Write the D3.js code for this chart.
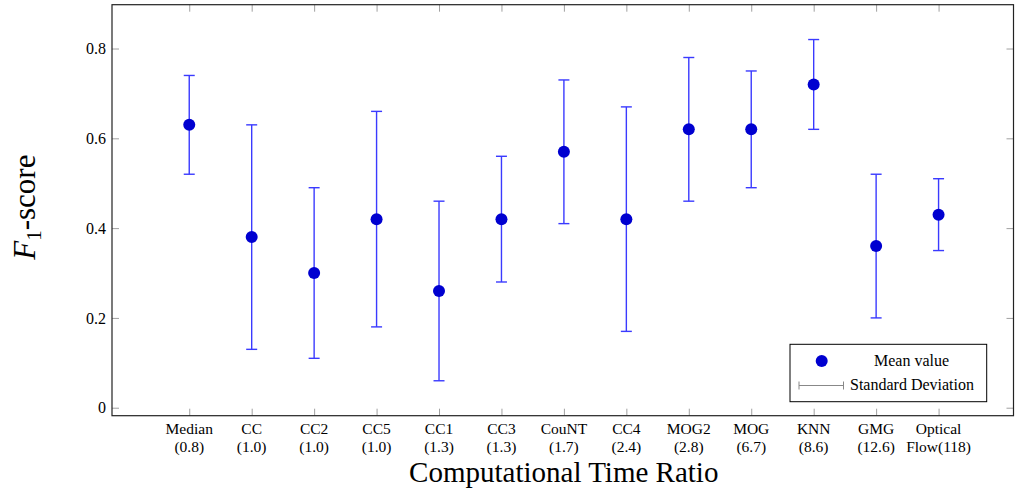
<!DOCTYPE html>
<html>
<head>
<meta charset="utf-8">
<script src="https://cdn.jsdelivr.net/npm/d3@7"></script>
<style>
  body { margin: 0; background: #fff; }
  svg { display: block; }
  text { font-family: "Liberation Serif", "DejaVu Serif", serif; fill: #000; }
</style>
</head>
<body>
<svg id="chart" width="1021" height="490"></svg>
<script>
const methods = ["Median", "CC", "CC2", "CC5", "CC1", "CC3", "CouNT", "CC4", "MOG2", "MOG", "KNN", "GMG", "Optical"];
const ratios = ["(0.8)", "(1.0)", "(1.0)", "(1.0)", "(1.3)", "(1.3)", "(1.7)", "(2.4)", "(2.8)", "(6.7)", "(8.6)", "(12.6)", "Flow(118)"];
const meanValues = [0.63, 0.38, 0.30, 0.42, 0.26, 0.42, 0.57, 0.42, 0.62, 0.62, 0.72, 0.36, 0.43];
const lowerValues = [0.52, 0.13, 0.11, 0.18, 0.06, 0.28, 0.41, 0.17, 0.46, 0.49, 0.62, 0.20, 0.35];
const upperValues = [0.74, 0.63, 0.49, 0.66, 0.46, 0.56, 0.73, 0.67, 0.78, 0.75, 0.82, 0.52, 0.51];
const yTicks = [0, 0.2, 0.4, 0.6, 0.8];

const svg = d3.select("#chart");
const L = 112, R = 1013.5, T = 4.7, B = 415.7;

const x = d3.scaleLinear().domain([-1.237, 13.2]).range([L, R]);
const y = d3.scaleLinear().domain([-0.0178, 0.8976]).range([B, T]);

const idx = d3.range(methods.length);
const tickLen = 7;
const tickColor = "#a0a0a0";

// ticks (inside, mirrored)
const g = svg.append("g");
g.append("g").attr("transform", `translate(0,${B})`)
  .call(d3.axisBottom(x).tickValues(idx).tickSize(-tickLen).tickFormat(""))
  .call(s => { s.select(".domain").remove(); s.selectAll("line").attr("stroke", tickColor); });
g.append("g").attr("transform", `translate(0,${T})`)
  .call(d3.axisTop(x).tickValues(idx).tickSize(-tickLen).tickFormat(""))
  .call(s => { s.select(".domain").remove(); s.selectAll("line").attr("stroke", tickColor); });
g.append("g").attr("transform", `translate(${L},0)`)
  .call(d3.axisLeft(y).tickValues(yTicks).tickSize(-tickLen).tickPadding(6).tickFormat(d => d === 0 ? "0" : d3.format(".1f")(d)))
  .call(s => {
    s.select(".domain").remove();
    s.selectAll("line").attr("stroke", tickColor);
    s.selectAll("text").attr("font-size", 16).attr("font-family", "Liberation Serif").attr("fill", "#000");
  });
g.append("g").attr("transform", `translate(${R},0)`)
  .call(d3.axisRight(y).tickValues(yTicks).tickSize(-tickLen).tickFormat(""))
  .call(s => { s.select(".domain").remove(); s.selectAll("line").attr("stroke", tickColor); });

// x labels (two lines)
const xl = svg.append("g");
idx.forEach(i => {
  xl.append("text").attr("x", x(i)).attr("y", 433.5).attr("text-anchor", "middle").attr("font-size", 15.5).text(methods[i]);
  xl.append("text").attr("x", x(i)).attr("y", 451.5).attr("text-anchor", "middle").attr("font-size", 15.5).text(ratios[i]);
});

// frame
svg.append("rect").attr("x", L).attr("y", T).attr("width", R - L).attr("height", B - T)
  .attr("fill", "none").attr("stroke", "#222").attr("stroke-width", 1.2);

// error bars
const barColor = "#3a3aff";
const cap = 5.5;
const eb = svg.append("g").attr("stroke", barColor).attr("stroke-width", 1.4);
idx.forEach(i => {
  const cx = x(i);
  eb.append("line").attr("x1", cx).attr("x2", cx).attr("y1", y(lowerValues[i])).attr("y2", y(upperValues[i]));
  eb.append("line").attr("x1", cx - cap).attr("x2", cx + cap).attr("y1", y(upperValues[i])).attr("y2", y(upperValues[i]));
  eb.append("line").attr("x1", cx - cap).attr("x2", cx + cap).attr("y1", y(lowerValues[i])).attr("y2", y(lowerValues[i]));
});

// mean markers
svg.append("g").selectAll("circle").data(idx).join("circle")
  .attr("cx", i => x(i)).attr("cy", i => y(meanValues[i])).attr("r", 6)
  .attr("fill", "#0000d0");

// axis titles
svg.append("text").attr("x", (L + R) / 2 + 1).attr("y", 482).attr("text-anchor", "middle")
  .attr("font-size", 29).text("Computational Time Ratio");
const yl = svg.append("text").attr("transform", `translate(35,${(T + B) / 2 - 3}) rotate(-90)`)
  .attr("text-anchor", "middle").attr("font-size", 31);
yl.append("tspan").attr("font-style", "italic").text("F");
yl.append("tspan").attr("font-size", 21).attr("dy", 6).text("1");
yl.append("tspan").attr("dy", -6).text("-score");

// legend
const lg = svg.append("g");
lg.append("rect").attr("x", 790).attr("y", 344.3).attr("width", 196.7).attr("height", 57.4)
  .attr("fill", "#fff").attr("stroke", "#000").attr("stroke-width", 1);
lg.append("circle").attr("cx", 821.7).attr("cy", 361).attr("r", 6).attr("fill", "#0000d0");
lg.append("text").attr("x", 911.5).attr("y", 366).attr("text-anchor", "middle").attr("font-size", 16).text("Mean value");
lg.append("g").attr("stroke", "#888").attr("stroke-width", 1)
  .call(s => {
    s.append("line").attr("x1", 799).attr("x2", 843.5).attr("y1", 385.5).attr("y2", 385.5);
    s.append("line").attr("x1", 799).attr("x2", 799).attr("y1", 381.5).attr("y2", 389.5);
    s.append("line").attr("x1", 843.5).attr("x2", 843.5).attr("y1", 381.5).attr("y2", 389.5);
  });
lg.append("text").attr("x", 850).attr("y", 390).attr("font-size", 16).text("Standard Deviation");
</script>
</body>
</html>
